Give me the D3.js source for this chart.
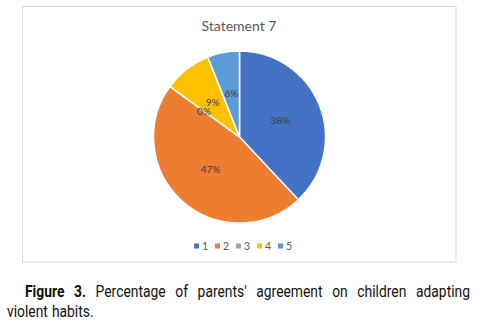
<!DOCTYPE html>
<html>
<head>
<meta charset="utf-8">
<script src="https://cdn.jsdelivr.net/npm/d3@7"></script>
<style>
  html, body { margin: 0; padding: 0; background: #fff; }
</style>
</head>
<body>
<svg id="chart" width="478" height="323"></svg>
<script>
// Survey answers for statement 7 (share of parents, %)
const categories = ["1", "2", "3", "4", "5"];
const values = [38, 47, 0, 9, 6];
const colors = ["#4472C4", "#ED7D31", "#A5A5A5", "#FFC000", "#5B9BD5"];
const title = "Statement 7";
const captionLabel = "Figure 3.";
const captionLines = [
  "Percentage of parents' agreement on children adapting",
  "violent habits."
];

const svg = d3.select("#chart");
const font = "Lato, 'Open Sans', sans-serif";

// chart frame
svg.append("rect")
  .attr("x", 22.5).attr("y", 6.5)
  .attr("width", 433.5).attr("height", 255.5)
  .attr("fill", "#fff").attr("stroke", "#d9d9d9").attr("stroke-width", 1);

// title
svg.append("text")
  .attr("x", 239).attr("y", 31)
  .attr("text-anchor", "middle")
  .attr("font-family", font).attr("font-size", 14)
  .attr("fill", "#595959")
  .text(title);

// pie
const cx = 239.5, cy = 137, R = 86;
const data = categories.map((c, i) => ({ cat: c, value: values[i], color: colors[i] }));
const pie = d3.pie().value(d => d.value).sort(null);
const arcs = pie(data);
const arc = d3.arc().innerRadius(0).outerRadius(R);
const labelArc = d3.arc().innerRadius(R * 0.51).outerRadius(R * 0.51);

const g = svg.append("g").attr("transform", `translate(${cx},${cy})`);
g.selectAll("path.slice").data(arcs).join("path")
  .attr("class", "slice")
  .attr("d", arc)
  .attr("fill", d => d.data.color)
  .attr("stroke", "#fff").attr("stroke-width", 1.5)
  .attr("stroke-linejoin", "round");

g.selectAll("text.lbl").data(arcs).join("text")
  .attr("class", "lbl")
  .attr("transform", d => `translate(${labelArc.centroid(d)})`)
  .attr("text-anchor", "middle").attr("dy", "0.35em")
  .attr("font-family", font).attr("font-size", 10)
  .attr("fill", "#404040")
  .text(d => d.data.value + "%");

// legend
const legendX = d3.scalePoint().domain(categories).range([194, 278]);
const item = svg.append("g").selectAll("g").data(data).join("g")
  .attr("transform", d => `translate(${legendX(d.cat)},246)`);
item.append("rect")
  .attr("x", 0).attr("y", -2.5).attr("width", 5).attr("height", 5)
  .attr("fill", d => d.color);
item.append("text")
  .attr("x", 8).attr("dy", "0.35em")
  .attr("font-family", font).attr("font-size", 10.5)
  .attr("fill", "#595959")
  .text(d => d.cat);

// caption: condensed, justified first line with indent
const capFont = "Roboto, 'Liberation Sans', sans-serif";
const squeeze = 0.84;
const capG = svg.append("g")
  .attr("font-family", capFont).attr("font-size", 16.5).attr("fill", "#111");

function layoutWords(words, x0, x1, y, justify) {
  const nodes = words.map(w => {
    const t = capG.append("text").attr("y", y)
      .attr("font-weight", w.bold ? "bold" : "normal").text(w.text);
    const natural = t.node().getComputedTextLength();
    const width = natural * squeeze;
    t.attr("textLength", width).attr("lengthAdjust", "spacingAndGlyphs");
    return { t, width };
  });
  const total = d3.sum(nodes, n => n.width);
  const gap = justify ? (x1 - x0 - total) / (nodes.length - 1) : 4;
  let x = x0;
  nodes.forEach(n => { n.t.attr("x", x); x += n.width + gap; });
}

const line1 = [
  ...captionLabel.split(" ").map(t => ({ text: t, bold: true })),
  ...captionLines[0].split(" ").map(t => ({ text: t, bold: false }))
];
const line2 = captionLines[1].split(" ").map(t => ({ text: t, bold: false }));
layoutWords(line1, 25, 470, 297, true);
layoutWords(line2, 7, 470, 317, false);
</script>
</body>
</html>
